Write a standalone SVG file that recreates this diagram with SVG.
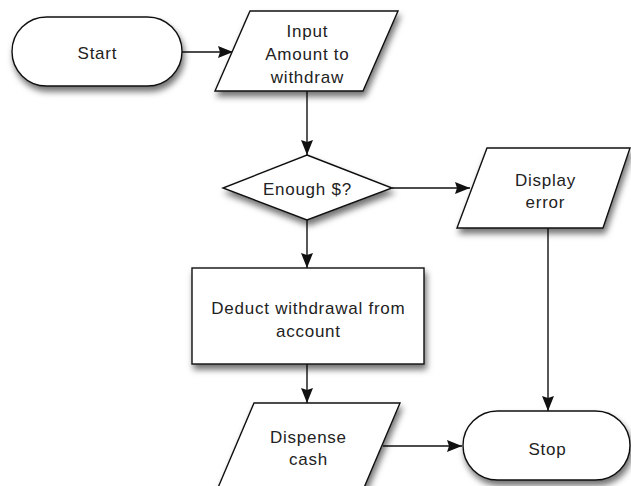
<svg xmlns="http://www.w3.org/2000/svg" width="631" height="486" viewBox="0 0 631 486">
  <style>
    .shape { fill: #fff; stroke: #111; stroke-width: 1.4; filter: url(#shadow); }
    .label { font-family: "Liberation Sans", Arial, sans-serif; font-size: 17px; letter-spacing: 0.75px; fill: #222; text-anchor: middle; }
    .edge { fill: none; stroke: #111; stroke-width: 1.4; marker-end: url(#arrow); }
  </style>
  <defs>
    <filter id="shadow" x="-20%" y="-20%" width="150%" height="160%">
      <feDropShadow dx="2" dy="5" stdDeviation="3" flood-color="#000" flood-opacity="0.55"/>
    </filter>
    <marker id="arrow" viewBox="0 0 15 12" refX="15" refY="6" markerWidth="15" markerHeight="12" markerUnits="userSpaceOnUse" orient="auto">
      <path d="M0,0 L15,6 L0,12 L2,6 Z" fill="#111"/>
    </marker>
  </defs>

  <g id="connectors">
    <line class="edge" x1="182" y1="52" x2="233" y2="52"/>
    <line class="edge" x1="307" y1="91" x2="307" y2="155"/>
    <line class="edge" x1="392" y1="188" x2="470" y2="188"/>
    <line class="edge" x1="307" y1="220" x2="307" y2="268"/>
    <line class="edge" x1="307" y1="364" x2="307" y2="403"/>
    <line class="edge" x1="383" y1="446" x2="462" y2="446"/>
    <line class="edge" x1="548" y1="228" x2="548" y2="411"/>
  </g>

  <g id="start">
    <rect class="shape" x="12" y="17" width="170" height="69" rx="34.5"/>
    <text class="label" x="97.4" y="59">Start</text>
  </g>

  <g id="input">
    <polygon class="shape" points="250,11 398,11 363,91 215,91"/>
    <text class="label" x="307.4" y="37">Input</text>
    <text class="label" x="307.4" y="60">Amount to</text>
    <text class="label" x="307.4" y="83">withdraw</text>
  </g>

  <g id="decision">
    <polygon class="shape" points="307,155 392,188 307,220 223,188"/>
    <text class="label" x="307.4" y="195">Enough $?</text>
  </g>

  <g id="display-error">
    <polygon class="shape" points="487,148 630,148 603,228 457,228"/>
    <text class="label" x="545.4" y="186">Display</text>
    <text class="label" x="545.4" y="208">error</text>
  </g>

  <g id="deduct">
    <rect class="shape" x="192" y="268" width="232" height="96"/>
    <text class="label" x="308.4" y="314">Deduct withdrawal from</text>
    <text class="label" x="308.4" y="337">account</text>
  </g>

  <g id="dispense">
    <polygon class="shape" points="254,403 400,403 363,490 217,490"/>
    <text class="label" x="308.4" y="443">Dispense</text>
    <text class="label" x="308.4" y="465">cash</text>
  </g>

  <g id="stop">
    <rect class="shape" x="463" y="411" width="167" height="69" rx="34.5"/>
    <text class="label" x="547.4" y="455">Stop</text>
  </g>
</svg>
